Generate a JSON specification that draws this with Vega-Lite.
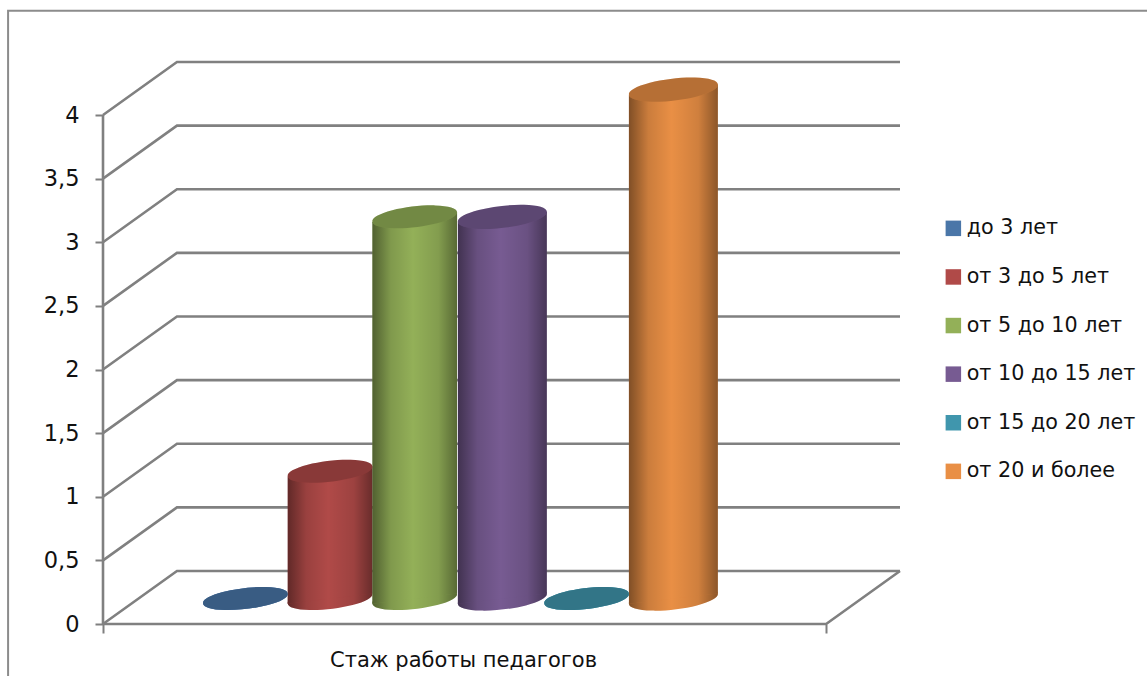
{"$schema":"https://vega.github.io/schema/vega-lite/v6.json","width":797,"height":562,"autosize":{"type":"none"},"padding":{"left":103,"top":62,"right":247,"bottom":52},"background":"white","config":{"view":{"stroke":null},"font":"DejaVu Sans"},
"datasets":{
"bars":[
{"series":"до 3 лет","value":0,"base":0.2,"top":0.2,"w":0.99,"xc":1.665},
{"series":"от 3 до 5 лет","value":1,"base":0.2,"top":1.2,"w":0.99,"xc":2.655},
{"series":"от 5 до 10 лет","value":3,"base":0.2,"top":3.2,"w":0.99,"xc":3.645},
{"series":"от 10 до 15 лет","value":3,"base":0.2,"top":3.2,"w":1.04,"xc":4.67},
{"series":"от 15 до 20 лет","value":0,"base":0.2,"top":0.2,"w":0.99,"xc":5.655},
{"series":"от 20 и более","value":4,"base":0.2,"top":4.2,"w":1.04,"xc":6.67}],
"body":[
{"series":"от 3 до 5 лет","x":2.16,"low":0.16,"high":1.16},{"series":"от 3 до 5 лет","x":3.15,"low":0.24,"high":1.24},
{"series":"от 5 до 10 лет","x":3.15,"low":0.16,"high":3.16},{"series":"от 5 до 10 лет","x":4.14,"low":0.24,"high":3.24},
{"series":"от 10 до 15 лет","x":4.15,"low":0.16,"high":3.16},{"series":"от 10 до 15 лет","x":5.19,"low":0.24,"high":3.24},
{"series":"от 20 и более","x":6.15,"low":0.16,"high":4.16},{"series":"от 20 и более","x":7.19,"low":0.24,"high":4.24}],
"grid":[
{"g":"0","x":0,"y":0},{"g":"0","x":0.865,"y":0.417},{"g":"0","x":9.32,"y":0.417},
{"g":"0.5","x":0,"y":0.5},{"g":"0.5","x":0.865,"y":0.917},{"g":"0.5","x":9.32,"y":0.917},
{"g":"1","x":0,"y":1},{"g":"1","x":0.865,"y":1.417},{"g":"1","x":9.32,"y":1.417},
{"g":"1.5","x":0,"y":1.5},{"g":"1.5","x":0.865,"y":1.917},{"g":"1.5","x":9.32,"y":1.917},
{"g":"2","x":0,"y":2},{"g":"2","x":0.865,"y":2.417},{"g":"2","x":9.32,"y":2.417},
{"g":"2.5","x":0,"y":2.5},{"g":"2.5","x":0.865,"y":2.917},{"g":"2.5","x":9.32,"y":2.917},
{"g":"3","x":0,"y":3},{"g":"3","x":0.865,"y":3.417},{"g":"3","x":9.32,"y":3.417},
{"g":"3.5","x":0,"y":3.5},{"g":"3.5","x":0.865,"y":3.917},{"g":"3.5","x":9.32,"y":3.917},
{"g":"4","x":0,"y":4},{"g":"4","x":0.865,"y":4.417},{"g":"4","x":9.32,"y":4.417},
{"g":"floor","x":0,"y":0},{"g":"floor","x":8.456,"y":0},{"g":"floor","x":9.32,"y":0.417},
{"g":"axis","x":0,"y":0},{"g":"axis","x":0,"y":4}],
"frame":[{"x":-1.11,"y":-0.42,"o":1},{"x":-1.11,"y":4.82,"o":2},{"x":12.3,"y":4.82,"o":3}]},
"layer":[
{"data":{"name":"frame"},"mark":{"type":"line","color":"#8c8c8c","strokeWidth":2,"clip":false},"encoding":{"x":{"field":"x","type":"quantitative","scale":{"domain":[0,9.32],"nice":false,"zero":false},"axis":{"values":[0,8.456],"labels":false,"grid":false,"domain":false,"tickSize":9,"tickColor":"#7f7f7f","tickWidth":2,"title":"Стаж работы педагогов","titleFont":"DejaVu Sans","titleFontSize":21,"titleFontWeight":"normal","titleColor":"#111111","titleX":360,"titleY":25}},"y":{"field":"y","type":"quantitative","scale":{"domain":[0,4.417],"nice":false,"zero":false},"axis":{"values":[0,0.5,1,1.5,2,2.5,3,3.5,4],"format":".2~f","labelExpr":"replace(datum.label,'.',',')","grid":false,"domain":false,"tickSize":8,"tickColor":"#7f7f7f","tickWidth":2,"labelFont":"DejaVu Sans","labelFontSize":22.5,"labelColor":"#111111","labelPadding":16,"title":null}},"order":{"field":"o","type":"quantitative"}}},
{"data":{"name":"grid"},"mark":{"type":"line","color":"#808080","strokeWidth":2.6},"encoding":{"x":{"field":"x","type":"quantitative"},"y":{"field":"y","type":"quantitative"},"detail":{"field":"g"}}},
{"data":{"name":"bars"},"mark":{"type":"point","filled":true,"opacity":1,"strokeWidth":0,"shape":"M -1 0.115 A 1.007 0.24 -6.6 1 1 1 -0.115 A 1.007 0.24 -6.6 1 1 -1 0.115 Z"},"encoding":{"x":{"field":"xc","type":"quantitative"},"y":{"field":"base","type":"quantitative"},"size":{"field":"w","type":"quantitative","scale":{"type":"pow","exponent":2,"domain":[0.99,1.04],"range":[7160,7907]},"legend":null},"color":{"field":"series","type":"nominal","scale":{"domain":["до 3 лет","от 3 до 5 лет","от 5 до 10 лет","от 10 до 15 лет","от 15 до 20 лет","от 20 и более"],"range":["#4a76a8","#b04a48","#93b058","#775b92","#4096ad","#e98f45"]},"legend":{"orient":"none","legendX":840,"legendY":156,"title":null,"symbolType":"square","symbolSize":240,"symbolStrokeWidth":0,"symbolOpacity":1,"labelFont":"DejaVu Sans","labelFontSize":20.7,"labelColor":"#111111","labelLimit":300,"labelOffset":3,"rowPadding":26.6}}}},
{"data":{"name":"bars"},"transform":[{"filter":"datum.value > 0"}],"mark":{"type":"point","filled":true,"opacity":1,"strokeWidth":0,"shape":"M -1 0.115 A 1.007 0.24 -6.6 1 1 1 -0.115 A 1.007 0.24 -6.6 1 1 -1 0.115 Z","color":{"gradient":"linear","x1":0,"y1":0,"x2":1,"y2":0,"stops":[{"offset":0,"color":"rgba(0,0,0,0.45)"},{"offset":0.22,"color":"rgba(0,0,0,0.13)"},{"offset":0.48,"color":"rgba(0,0,0,0)"},{"offset":0.78,"color":"rgba(0,0,0,0.11)"},{"offset":1,"color":"rgba(0,0,0,0.4)"}]}},"encoding":{"x":{"field":"xc","type":"quantitative"},"y":{"field":"base","type":"quantitative"},"size":{"field":"w","type":"quantitative"}}},
{"data":{"name":"body"},"mark":{"type":"area","opacity":1},"encoding":{"x":{"field":"x","type":"quantitative"},"y":{"field":"low","type":"quantitative","stack":null},"y2":{"field":"high"},"color":{"field":"series","type":"nominal"}}},
{"data":{"name":"body"},"mark":{"type":"area","opacity":1,"color":{"gradient":"linear","x1":0,"y1":0,"x2":1,"y2":0,"stops":[{"offset":0,"color":"rgba(0,0,0,0.45)"},{"offset":0.22,"color":"rgba(0,0,0,0.13)"},{"offset":0.48,"color":"rgba(0,0,0,0)"},{"offset":0.78,"color":"rgba(0,0,0,0.11)"},{"offset":1,"color":"rgba(0,0,0,0.4)"}]}},"encoding":{"x":{"field":"x","type":"quantitative"},"y":{"field":"low","type":"quantitative","stack":null},"y2":{"field":"high"},"detail":{"field":"series"}}},
{"data":{"name":"bars"},"mark":{"type":"point","filled":true,"opacity":1,"strokeWidth":0,"shape":"M -1 0.115 A 1.007 0.24 -6.6 1 1 1 -0.115 A 1.007 0.24 -6.6 1 1 -1 0.115 Z"},"encoding":{"x":{"field":"xc","type":"quantitative"},"y":{"field":"top","type":"quantitative"},"size":{"field":"w","type":"quantitative"},"color":{"field":"series","type":"nominal"}}},
{"data":{"name":"bars"},"mark":{"type":"point","filled":true,"opacity":0.22,"color":"#000000","strokeWidth":0,"shape":"M -1 0.115 A 1.007 0.24 -6.6 1 1 1 -0.115 A 1.007 0.24 -6.6 1 1 -1 0.115 Z"},"encoding":{"x":{"field":"xc","type":"quantitative"},"y":{"field":"top","type":"quantitative"},"size":{"field":"w","type":"quantitative"}}}
]}
